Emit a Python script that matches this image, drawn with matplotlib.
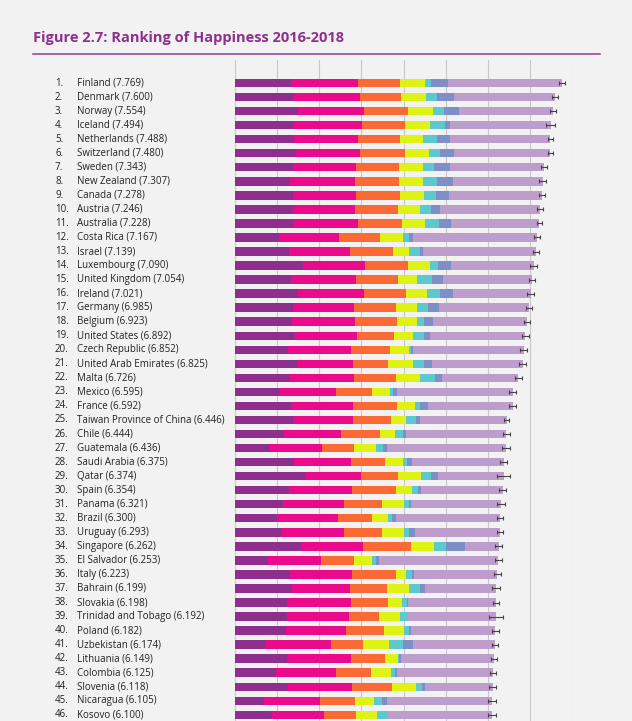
import matplotlib.pyplot as plt
import numpy as np
from matplotlib.transforms import blended_transform_factory

countries = ['Finland', 'Denmark', 'Norway', 'Iceland', 'Netherlands', 'Switzerland',
             'Sweden', 'New Zealand', 'Canada', 'Austria', 'Australia', 'Costa Rica',
             'Israel', 'Luxembourg', 'United Kingdom', 'Ireland', 'Germany', 'Belgium',
             'United States', 'Czech Republic', 'United Arab Emirates', 'Malta', 'Mexico',
             'France', 'Taiwan Province of China', 'Chile', 'Guatemala', 'Saudi Arabia',
             'Qatar', 'Spain', 'Panama', 'Brazil', 'Uruguay', 'Singapore', 'El Salvador',
             'Italy', 'Bahrain', 'Slovakia', 'Trinidad and Tobago', 'Poland', 'Uzbekistan',
             'Lithuania', 'Colombia', 'Slovenia', 'Nicaragua', 'Kosovo']
scores = [7.769, 7.600, 7.554, 7.494, 7.488, 7.480, 7.343, 7.307, 7.278, 7.246, 7.228,
          7.167, 7.139, 7.090, 7.054, 7.021, 6.985, 6.923, 6.892, 6.852, 6.825, 6.726,
          6.595, 6.592, 6.446, 6.444, 6.436, 6.375, 6.374, 6.354, 6.321, 6.300, 6.293,
          6.262, 6.253, 6.223, 6.199, 6.198, 6.192, 6.182, 6.174, 6.149, 6.125, 6.118,
          6.105, 6.100]
gdp = [1.340, 1.383, 1.488, 1.380, 1.396, 1.452, 1.387, 1.303, 1.365, 1.376, 1.372, 1.034,
       1.276, 1.609, 1.333, 1.499, 1.373, 1.356, 1.433, 1.269, 1.503, 1.300, 1.070, 1.324,
       1.368, 1.159, 0.800, 1.403, 1.684, 1.286, 1.149, 1.004, 1.124, 1.572, 0.794, 1.294,
       1.362, 1.246, 1.231, 1.206, 0.745, 1.238, 0.985, 1.258, 0.694, 0.882]
social = [1.587, 1.573, 1.582, 1.624, 1.522, 1.526, 1.487, 1.557, 1.505, 1.475, 1.548, 1.441,
          1.455, 1.479, 1.538, 1.553, 1.454, 1.504, 1.457, 1.487, 1.310, 1.520, 1.323, 1.472,
          1.430, 1.369, 1.269, 1.357, 1.313, 1.484, 1.442, 1.439, 1.465, 1.463, 1.242, 1.488,
          1.368, 1.504, 1.477, 1.438, 1.529, 1.515, 1.410, 1.523, 1.325, 1.232]
health = [0.986, 0.996, 1.028, 1.026, 0.999, 1.052, 1.009, 1.026, 1.039, 1.016, 1.036, 0.963,
          1.029, 1.012, 0.996, 0.999, 0.987, 0.986, 0.874, 0.920, 0.825, 0.999, 0.861, 1.045,
          0.914, 0.920, 0.746, 0.795, 0.871, 1.062, 0.910, 0.802, 0.891, 1.141, 0.789, 1.039,
          0.871, 0.881, 0.713, 0.884, 0.756, 0.818, 0.841, 0.953, 0.835, 0.758]
freedom = [0.596, 0.592, 0.603, 0.591, 0.557, 0.572, 0.574, 0.585, 0.584, 0.532, 0.557, 0.558,
           0.371, 0.526, 0.450, 0.516, 0.495, 0.473, 0.454, 0.457, 0.598, 0.564, 0.433, 0.436,
           0.351, 0.357, 0.535, 0.439, 0.555, 0.362, 0.516, 0.390, 0.523, 0.556, 0.430, 0.231,
           0.536, 0.334, 0.489, 0.483, 0.631, 0.291, 0.470, 0.564, 0.435, 0.489]
generosity = [0.153, 0.252, 0.271, 0.354, 0.322, 0.263, 0.267, 0.330, 0.285, 0.244, 0.332,
              0.144, 0.261, 0.194, 0.348, 0.298, 0.261, 0.160, 0.280, 0.046, 0.262, 0.375,
              0.074, 0.111, 0.242, 0.187, 0.175, 0.080, 0.220, 0.153, 0.109, 0.099, 0.127,
              0.271, 0.093, 0.158, 0.255, 0.121, 0.185, 0.117, 0.322, 0.043, 0.099, 0.144,
              0.200, 0.262]
corruption = [0.393, 0.410, 0.341, 0.118, 0.298, 0.343, 0.373, 0.380, 0.308, 0.226, 0.290,
              0.093, 0.082, 0.316, 0.278, 0.310, 0.265, 0.210, 0.128, 0.036, 0.182, 0.151,
              0.073, 0.183, 0.097, 0.056, 0.078, 0.132, 0.167, 0.079, 0.054, 0.086, 0.150,
              0.453, 0.074, 0.030, 0.110, 0.014, 0.016, 0.050, 0.240, 0.042, 0.034, 0.057,
              0.127, 0.006]
ci = [0.07, 0.07, 0.07, 0.1, 0.06, 0.06, 0.07, 0.08, 0.07, 0.07, 0.07, 0.08, 0.07, 0.08,
      0.07, 0.08, 0.07, 0.07, 0.08, 0.08, 0.08, 0.08, 0.08, 0.08, 0.07, 0.08, 0.09, 0.09,
      0.16, 0.08, 0.09, 0.07, 0.08, 0.08, 0.09, 0.08, 0.1, 0.08, 0.16, 0.08, 0.07, 0.08,
      0.08, 0.08, 0.1, 0.09]

colors = ['#8e2f8e', '#ec0a8c', '#fb6a35', '#def214', '#5ec8cf', '#7e8fc8', '#bd9dcb']

scores = np.array(scores)
parts = np.array([gdp, social, health, freedom, generosity, corruption])
dystopia = scores - parts.sum(axis=0)
segments = list(parts) + [dystopia]

bg = '#f2f2f2'
fig = plt.figure(figsize=(6.32, 7.21), dpi=100, facecolor=bg)
ax = fig.add_axes([235 / 632, 0, 337 / 632, 661 / 721], facecolor=bg)

y = np.arange(len(countries))
left = np.zeros(len(countries))
for seg, c in zip(segments, colors):
    ax.barh(y, seg, left=left, height=0.6, color=c, zorder=2)
    left += seg
ax.errorbar(scores, y, xerr=ci, fmt='none', ecolor='#444444', elinewidth=0.8,
            capsize=1.5, capthick=0.8, zorder=3)

ax.set_xlim(0, 8)
ax.set_ylim(45.44, -1.64)
for gx in range(0, 9):
    ax.axvline(gx, color='#c8c8c8', lw=0.8, zorder=1)
for s in ax.spines.values():
    s.set_visible(False)
ax.set_xticks([])
ax.set_yticks([])

tr = blended_transform_factory(fig.transFigure, ax.transData)
for i, (name, sc) in enumerate(zip(countries, scores)):
    ax.text(55 / 632, i, f'{i + 1}.', transform=tr, fontsize=7, va='center',
            color='#222222', family='Open Sans')
    ax.text(77 / 632, i, f'{name} ({sc:.3f})', transform=tr, fontsize=7, va='center',
            color='#222222', family='Open Sans')

fig.text(33 / 632, 1 - 38 / 721, 'Figure 2.7: Ranking of Happiness 2016-2018',
         fontsize=10.5, fontweight='bold', color='#8e2f8e', va='center', family='Open Sans')
fig.add_artist(plt.Line2D([33 / 632, 600 / 632], [1 - 54 / 721] * 2,
                          color='#9b4a9b', lw=1.2, transform=fig.transFigure))

fig.savefig('out.png', dpi=100, facecolor=bg)
